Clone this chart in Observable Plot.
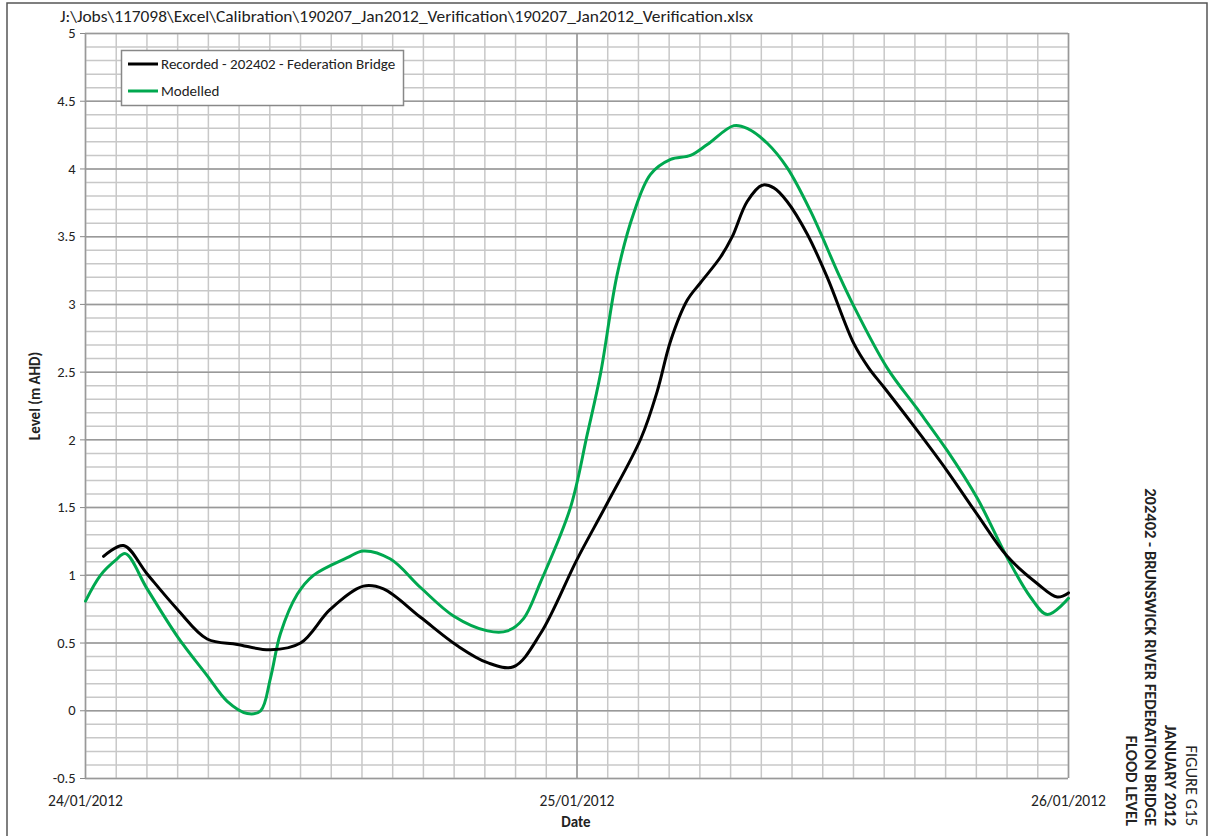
<!DOCTYPE html>
<html>
<head>
<meta charset="utf-8">
<script src="https://cdn.jsdelivr.net/npm/d3@7"></script>
<script src="https://cdn.jsdelivr.net/npm/@observablehq/plot@0.6"></script>
<style>
  html, body { margin: 0; padding: 0; background: #fff; }
  svg { display: block; }
</style>
</head>
<body>
<div id="chart"></div>
<script>
// ---- Data (hours after 24/01/2012 00:00, level in m AHD) ----
const recordedHours = [0.88, 1.86, 3.01, 4.48, 5.94, 7.41, 9.03, 10.5, 11.96, 13.57, 14.55, 16.36, 18.16, 19.63, 20.9, 22.22, 24.01, 25.47, 27.12, 27.92, 28.57, 29.38, 30.03, 31.01, 31.58, 32.31, 33.04, 33.61, 34.26, 35.24, 36.22, 37.52, 38.25, 38.98, 40.61, 42.08, 43.54, 45.01, 46.47, 47.45, 48.0];
const recordedLevel = [1.14, 1.22, 1.01, 0.75, 0.53, 0.49, 0.45, 0.5, 0.75, 0.92, 0.9, 0.69, 0.48, 0.355, 0.325, 0.57, 1.12, 1.53, 2.01, 2.36, 2.73, 3.03, 3.16, 3.35, 3.5, 3.76, 3.88, 3.86, 3.76, 3.52, 3.2, 2.71, 2.53, 2.39, 2.07, 1.77, 1.45, 1.14, 0.94, 0.84, 0.87];

const modelledHours = [0, 0.73, 1.46, 1.95, 3.01, 4.48, 5.94, 6.92, 7.9, 8.55, 9.03, 9.52, 10.34, 11.13, 12.78, 13.57, 14.89, 16.36, 17.97, 19.63, 20.61, 21.39, 22.22, 23.68, 24.5, 25.15, 25.96, 26.76, 27.59, 28.57, 29.54, 30.36, 31.66, 32.31, 33.29, 34.26, 35.4, 36.78, 37.44, 39.15, 40.61, 42.08, 43.54, 45.01, 46.14, 46.97, 48.0];
const modelledLevel = [0.81, 1.0, 1.11, 1.16, 0.9, 0.55, 0.26, 0.07, -0.02, 0.0, 0.24, 0.57, 0.86, 1.0, 1.13, 1.18, 1.12, 0.91, 0.7, 0.59, 0.59, 0.68, 0.95, 1.5, 2.04, 2.49, 3.22, 3.67, 3.96, 4.07, 4.1, 4.18, 4.32, 4.3, 4.19, 4.01, 3.69, 3.22, 3.01, 2.53, 2.23, 1.92, 1.57, 1.13, 0.84, 0.71, 0.83];

const seriesNames = ["Recorded - 202402 - Federation Bridge", "Modelled"];
const seriesColors = ["#000000", "#00A84F"];
const xTickLabels = ["24/01/2012", "25/01/2012", "26/01/2012"];
const yTicks = [-0.5, 0, 0.5, 1, 1.5, 2, 2.5, 3, 3.5, 4, 4.5, 5];
const filePath = "J:\\Jobs\\117098\\Excel\\Calibration\\190207_Jan2012_Verification\\190207_Jan2012_Verification.xlsx";
const sideLines = ["FIGURE G15", "JANUARY 2012", "202402 - BRUNSWICK RIVER FEDERATION BRIDGE", "FLOOD LEVEL"];
const xTitle = "Date";
const yTitle = "Level (m AHD)";

// ---- Build table ----
const start = Date.UTC(2012, 0, 24);
const toDate = h => new Date(start + h * 3600e3);
const recorded = recordedHours.map((h, i) => ({t: toDate(h), v: recordedLevel[i], s: seriesNames[0]}));
const modelled = modelledHours.map((h, i) => ({t: toDate(h), v: modelledLevel[i], s: seriesNames[1]}));
const tickDates = xTickLabels.map((_, i) => toDate(24 * i));

const minorY = d3.range(-5, 51).map(k => k / 10);
const minorX = d3.range(0, 33).map(k => toDate(k * 1.5));

const FONT = "Carlito, Calibri, Lato, 'Open Sans', sans-serif";

const chart = Plot.plot({
  width: 1210,
  height: 836,
  marginLeft: 85,
  marginRight: 142,
  marginTop: 33,
  marginBottom: 58,
  style: {fontFamily: FONT, fontSize: "14px", color: "#222", background: "#fff", overflow: "visible"},
  x: {type: "utc", domain: [toDate(0), toDate(48)]},
  y: {domain: [-0.5, 5]},
  marks: [
    Plot.ruleY(minorY, {stroke: "#c8c8c8", strokeWidth: 1.5}),
    Plot.ruleX(minorX, {stroke: "#c8c8c8", strokeWidth: 1.5}),
    Plot.ruleY(yTicks, {stroke: "#999999", strokeWidth: 1.5}),
    Plot.ruleX(tickDates, {stroke: "#999999", strokeWidth: 1.5}),
    Plot.axisY({ticks: yTicks, tickSize: 5, tickPadding: 5, tickFormat: d => String(d), label: null, fontSize: 14.5, stroke: "#888"}),
    Plot.axisX({ticks: tickDates, tickSize: 0, tickPadding: 16, tickFormat: (d, i) => xTickLabels[i], label: null, fontSize: 15.5}),
    Plot.line(modelled, {x: "t", y: "v", stroke: seriesColors[1], strokeWidth: 3, curve: "catmull-rom"}),
    Plot.line(recorded, {x: "t", y: "v", stroke: seriesColors[0], strokeWidth: 3, curve: "catmull-rom"})
  ]
});

document.getElementById("chart").appendChild(chart);

// ---- Annotations ----
const svg = d3.select(chart);
// outer border
svg.append("rect").attr("x", 7).attr("y", 3).attr("width", 1200).attr("height", 840)
  .attr("fill", "none").attr("stroke", "#555").attr("stroke-width", 1.5);

// file path title
svg.append("text").attr("x", 60).attr("y", 22).attr("text-anchor", "start").attr("font-size", 15.5).attr("fill", "#222")
  .attr("font-family", FONT).attr("textLength", 693).attr("lengthAdjust", "spacingAndGlyphs").text(filePath);

// axis titles
svg.append("text").attr("x", 576).attr("y", 827).attr("text-anchor", "middle")
  .attr("font-size", 15).attr("font-weight", "bold").attr("fill", "#222").attr("font-family", FONT).text(xTitle);
svg.append("text").attr("transform", "translate(40,396) rotate(-90)").attr("text-anchor", "middle")
  .attr("font-size", 15).attr("font-weight", "bold").attr("fill", "#222").attr("font-family", FONT).text(yTitle);

// legend
const lg = svg.append("g");
lg.append("rect").attr("x", 121.5).attr("y", 50.5).attr("width", 282).attr("height", 55)
  .attr("fill", "#fff").attr("stroke", "#888").attr("stroke-width", 1.5);
seriesNames.forEach((name, i) => {
  const y = 64 + i * 27;
  lg.append("line").attr("x1", 128).attr("x2", 158).attr("y1", y).attr("y2", y)
    .attr("stroke", seriesColors[i]).attr("stroke-width", 3);
  lg.append("text").attr("x", 161).attr("y", y).attr("dy", "0.35em").attr("text-anchor", "start").attr("font-size", 15)
    .attr("fill", "#222").attr("font-family", FONT).text(name);
});

// side titles (rotated clockwise, reading top to bottom)
const sideX = [1186, 1165, 1145, 1126];
sideLines.forEach((t, i) => {
  svg.append("text").attr("transform", `translate(${sideX[i]},826) rotate(90)`)
    .attr("text-anchor", "end").attr("font-size", 16.5)
    .attr("font-weight", i === 0 ? "normal" : "bold").attr("fill", "#222")
    .attr("font-family", FONT).text(t);
});
</script>
</body>
</html>
